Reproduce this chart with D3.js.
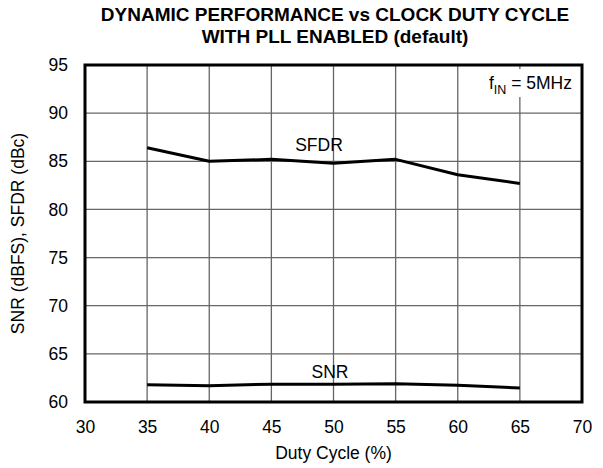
<!DOCTYPE html>
<html>
<head>
<meta charset="utf-8">
<script src="https://cdn.jsdelivr.net/npm/d3@7"></script>
<style>
  body { margin: 0; background: #fff; }
  text { font-family: "Liberation Sans", Arial, sans-serif; }
</style>
</head>
<body>
<div id="chart"></div>
<script>
const dutyCycle = [35, 40, 45, 50, 55, 60, 65];
const sfdr = [86.4, 85.0, 85.2, 84.8, 85.2, 83.6, 82.7];
const snr = [61.8, 61.7, 61.85, 61.85, 61.9, 61.75, 61.45];
const xTicks = [30, 35, 40, 45, 50, 55, 60, 65, 70];
const yTicks = [60, 65, 70, 75, 80, 85, 90, 95];

const W = 603, H = 468;
const m = {left: 85, right: 21, top: 65, bottom: 66};
const FS = 17.5;

const svg = d3.select("#chart").append("svg").attr("width", W).attr("height", H);

const x = d3.scaleLinear().domain([30, 70]).range([m.left, W - m.right]);
const y = d3.scaleLinear().domain([60, 95]).range([H - m.bottom, m.top]);

// grid
svg.append("g").selectAll("line")
    .data(xTicks.slice(1, -1))
    .join("line")
    .attr("x1", d => x(d)).attr("x2", d => x(d))
    .attr("y1", y(60)).attr("y2", y(95))
    .attr("stroke", "#666").attr("stroke-width", 1.3);
svg.append("g").selectAll("line")
    .data(yTicks.slice(1, -1))
    .join("line")
    .attr("x1", x(30)).attr("x2", x(70))
    .attr("y1", d => y(d)).attr("y2", d => y(d))
    .attr("stroke", "#666").attr("stroke-width", 1.3);

// white knockout behind the annotation
svg.append("rect")
    .attr("x", x(65) - 5).attr("y", y(95) + 4)
    .attr("width", 10).attr("height", 28)
    .attr("fill", "#fff");

const xAxis = svg.append("g")
    .attr("transform", `translate(0,${y(60)})`)
    .call(d3.axisBottom(x).tickValues(xTicks).tickSize(0).tickPadding(19));
xAxis.select(".domain").remove();
xAxis.selectAll("text").attr("font-size", FS).attr("fill", "#000")
    .attr("font-family", "Liberation Sans, Arial, sans-serif");

const yAxis = svg.append("g")
    .attr("transform", `translate(${x(30)},0)`)
    .call(d3.axisLeft(y).tickValues(yTicks).tickSize(0).tickPadding(17));
yAxis.select(".domain").remove();
yAxis.selectAll("text").attr("font-size", FS).attr("fill", "#000")
    .attr("font-family", "Liberation Sans, Arial, sans-serif");

// border
svg.append("rect")
    .attr("x", x(30)).attr("y", y(95))
    .attr("width", x(70) - x(30)).attr("height", y(60) - y(95))
    .attr("fill", "none").attr("stroke", "#000").attr("stroke-width", 3);

// series
const line = d3.line().x(d => x(d[0])).y(d => y(d[1]));
[sfdr, snr].forEach(vals => {
  svg.append("path")
      .datum(dutyCycle.map((d, i) => [d, vals[i]]))
      .attr("d", line)
      .attr("fill", "none")
      .attr("stroke", "#000")
      .attr("stroke-width", 3)
      .attr("stroke-linejoin", "round");
});

// series labels
svg.append("text").attr("x", 319).attr("y", 151)
    .attr("font-size", FS).attr("text-anchor", "middle").text("SFDR");
svg.append("text").attr("x", 330).attr("y", 378)
    .attr("font-size", FS).attr("text-anchor", "middle").text("SNR");

// annotation
const ann = svg.append("text").attr("x", 572).attr("y", 89)
    .attr("font-size", FS).attr("text-anchor", "end");
ann.append("tspan").text("f");
ann.append("tspan").attr("font-size", 12.5).attr("dy", 5).text("IN");
ann.append("tspan").attr("dy", -5).text(" = 5MHz");

// titles
svg.append("text").attr("x", 335).attr("y", 21)
    .attr("font-size", 19).attr("font-weight", "bold").attr("text-anchor", "middle")
    .text("DYNAMIC PERFORMANCE vs CLOCK DUTY CYCLE");
svg.append("text").attr("x", 335).attr("y", 43)
    .attr("font-size", 19).attr("font-weight", "bold").attr("text-anchor", "middle")
    .text("WITH PLL ENABLED (default)");

svg.append("text").attr("x", x(50)).attr("y", 459)
    .attr("font-size", FS).attr("text-anchor", "middle").text("Duty Cycle (%)");

svg.append("text")
    .attr("transform", `translate(24,${(y(60) + y(95)) / 2}) rotate(-90)`)
    .attr("font-size", FS).attr("text-anchor", "middle").text("SNR (dBFS), SFDR (dBc)");
</script>
</body>
</html>
